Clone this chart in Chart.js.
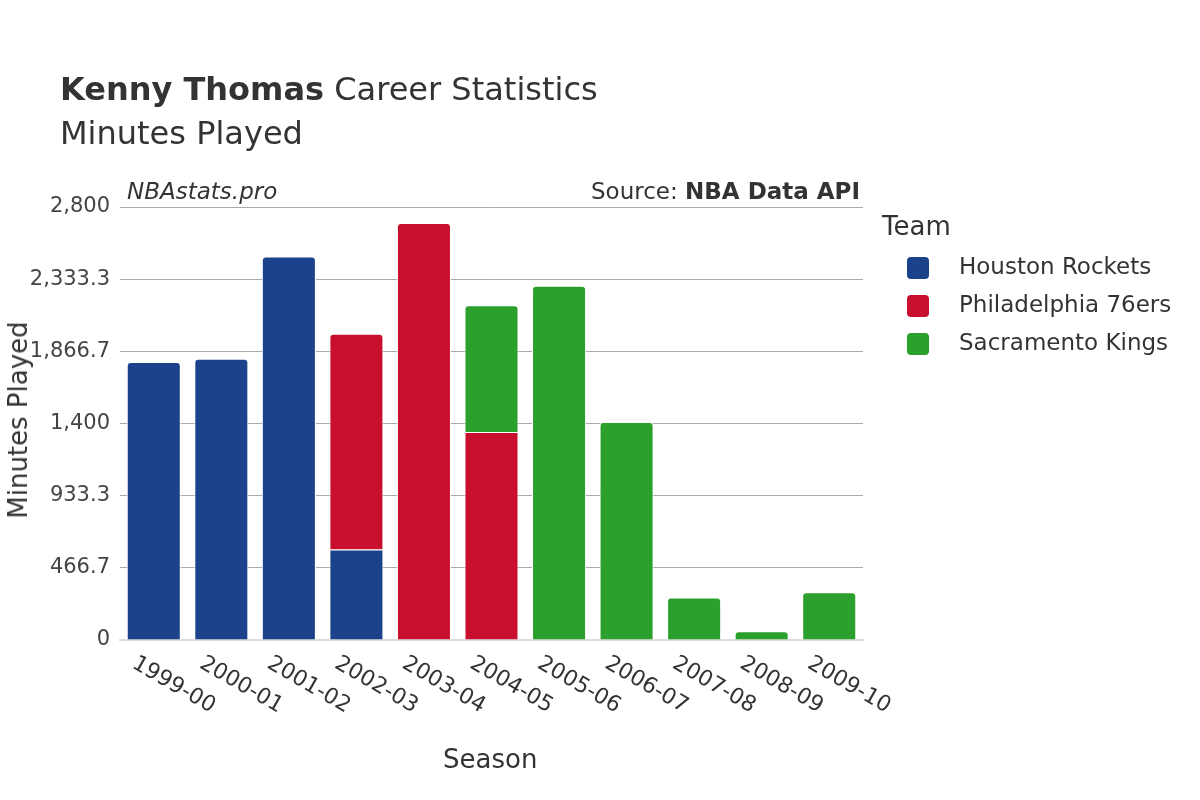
<!DOCTYPE html>
<html>
<head>
<meta charset="utf-8">
<script src="https://cdn.jsdelivr.net/npm/chart.js@4"></script>
<style>
  body { margin: 0; background: #fff; font-family: "DejaVu Sans", sans-serif; color: #333; }
  #wrap { position: relative; width: 1200px; height: 800px; }
  canvas { position: absolute; left: 0; top: 0; }
  .t { position: absolute; white-space: nowrap; }
  .sw { display: inline-block; width: 22px; height: 22px; border-radius: 4px; vertical-align: middle; margin-right: 30px; }
  .leg { position: absolute; left: 907px; font-size: 23px; color: #333; }
</style>
</head>
<body>
<div id="wrap">
  <canvas id="c" width="1200" height="800"></canvas>
  <div class="t" style="left:60px;top:70px;font-size:32px;"><b>Kenny Thomas</b> Career Statistics</div>
  <div class="t" style="left:60px;top:114px;font-size:32px;">Minutes Played</div>
  <div class="t" style="left:127px;top:178px;font-size:23px;font-style:italic;">NBAstats.pro</div>
  <div class="t" style="right:340px;top:178px;font-size:23px;">Source: <b>NBA Data API</b></div>
  <div class="t" style="left:882px;top:211px;font-size:26px;">Team</div>
  <div class="leg" style="top:253px;"><span class="sw" style="background:#1b428a"></span>Houston Rockets</div>
  <div class="leg" style="top:291px;"><span class="sw" style="background:#c8102e"></span>Philadelphia 76ers</div>
  <div class="leg" style="top:329px;"><span class="sw" style="background:#2ca02c"></span>Sacramento Kings</div>
  <div class="t" style="left:443px;top:744px;font-size:26px;">Season</div>
  <div class="t" style="left:18px;top:420px;font-size:26px;transform:translate(-50%,-50%) rotate(-90deg);transform-origin:center;margin-left:0;"><span style="display:inline-block;transform:translateX(0)">Minutes Played</span></div>
</div>
<script>
const seasons = ['1999-00','2000-01','2001-02','2002-03','2003-04','2004-05','2005-06','2006-07','2007-08','2008-09','2009-10'];
const houston = [1797, 1818, 2480, 585, 0, 0, 0, 0, 0, 0, 0];
const philly = [0, 0, 0, 1395, 2697, 1345, 0, 0, 0, 0, 0];
const sacramento = [0, 0, 0, 0, 0, 820, 2291, 1410, 275, 57, 309];

const tickLabels = {
  id: 'tickLabels',
  afterDraw(chart) {
    const ctx = chart.ctx, x = chart.scales.x;
    ctx.save();
    ctx.font = '22px "DejaVu Sans"';
    ctx.fillStyle = '#333';
    ctx.textAlign = 'left';
    ctx.textBaseline = 'middle';
    seasons.forEach((s, i) => {
      ctx.save();
      ctx.translate(x.getPixelForTick(i) - 20, 662);
      ctx.rotate(Math.PI / 6);
      ctx.fillText(s, 0, 0);
      ctx.restore();
    });
    ctx.restore();
  }
};

const ds = (label, data, color) => ({
  label, data, backgroundColor: color, borderColor: '#fff', borderWidth: 1,
  borderRadius: 4, borderSkipped: 'bottom', barPercentage: 0.8, categoryPercentage: 1
});

new Chart(document.getElementById('c'), {
  type: 'bar',
  data: {
    labels: seasons,
    datasets: [
      ds('Houston Rockets', houston, '#1b428a'),
      ds('Philadelphia 76ers', philly, '#c8102e'),
      ds('Sacramento Kings', sacramento, '#2ca02c'),
    ],
  },
  options: {
    responsive: false,
    animation: false,
    layout: { padding: { left: 0, right: 337, top: 207, bottom: 0 } },
    plugins: { legend: { display: false }, tooltip: { enabled: false } },
    scales: {
      x: {
        stacked: true,
        grid: { display: false },
        border: { color: '#ddd', width: 2 },
        ticks: { display: false },
        afterFit: (s) => { s.height = 160; },
      },
      y: {
        stacked: true,
        min: 0, max: 2800,
        afterFit: (s) => { s.width = 120; },
        border: { display: false },
        grid: { color: '#aaa', drawTicks: false },
        ticks: { stepSize: 500, padding: 10, color: '#444', font: { size: 21, family: 'DejaVu Sans' } },
      },
    },
  },
  plugins: [tickLabels],
});
</script>
</body>
</html>
